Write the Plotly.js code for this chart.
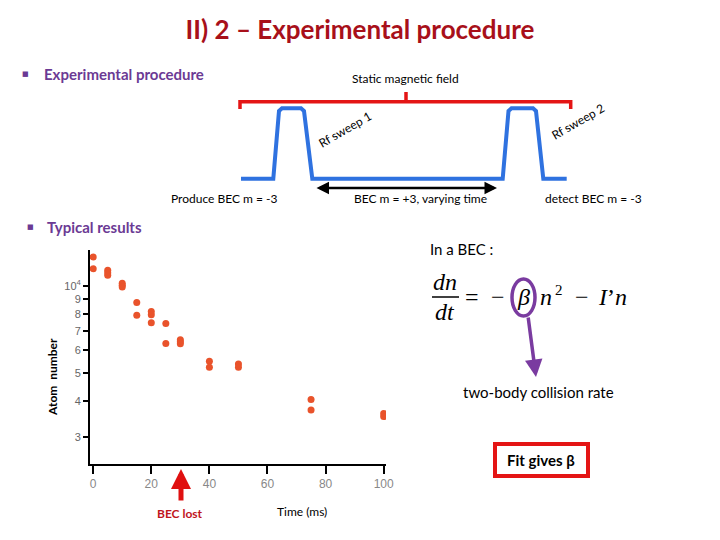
<!DOCTYPE html>
<html>
<head>
<meta charset="utf-8">
<script src="https://cdn.plot.ly/plotly-3.0.1.min.js"></script>
<style>html,body{margin:0;padding:0;background:#fff;}#chart{width:720px;height:540px;}</style>
</head>
<body>
<div id="chart"></div>
<script>
// Data (time in ms, atom number)
const timeMs = [0, 0, 5, 5, 5, 10, 10, 10, 15, 15, 20, 20, 20, 25, 25, 30, 30, 30, 40, 40, 50, 50, 75, 75, 100, 100];
const atomNumber = [12580, 11470, 11320, 11110, 10880, 10210, 10060, 9920, 8760, 7920, 8160, 7950, 7460, 7420, 6320, 6520, 6420, 6310, 5490, 5240, 5380, 5240, 4050, 3730, 3630, 3540];
const xTickVals = [0, 20, 40, 60, 80, 100];
const yTickVals = [3000, 4000, 5000, 6000, 7000, 8000, 9000, 10000];
const yTickText = ['3', '4', '5', '6', '7', '8', '9', '10<sup>4</sup>'];

const W = 720, H = 540;
const px = x => x / W;
const py = y => 1 - y / H;
const FONT = 'Lato, "Open Sans", sans-serif';
const PURPLE = '#6B3A94';
const DARKRED = '#A8101A';

function pathFrom(points) {
  return points.map((p, i) => (i ? 'L' : 'M') + px(p[0]).toFixed(5) + ',' + py(p[1]).toFixed(5)).join(' ');
}
function txt(x, y, text, opts) {
  return Object.assign({
    xref: 'paper', yref: 'paper', x: px(x), y: py(y), text: text, showarrow: false,
    xanchor: 'center', yanchor: 'middle',
    font: {family: FONT, size: 12, color: '#000'}
  }, opts || {});
}

const trace = {
  x: timeMs, y: atomNumber, type: 'scatter', mode: 'markers',
  marker: {color: '#E9532B', size: 7},
  hoverinfo: 'x+y', showlegend: false
};

const shapes = [
  // red bracket (static magnetic field)
  {type: 'path', xref: 'paper', yref: 'paper',
   path: pathFrom([[240, 109], [240, 101.7], [570.7, 101.7], [570.7, 109]]),
   line: {color: '#E41515', width: 3.5}},
  {type: 'path', xref: 'paper', yref: 'paper',
   path: pathFrom([[406, 101.7], [406, 92]]),
   line: {color: '#E41515', width: 3.5}},
  // blue rf sweep line
  {type: 'path', xref: 'paper', yref: 'paper',
   path: pathFrom([[241, 178.7], [273.3, 178.7], [279, 111], [282, 108.3], [301, 108.3], [304, 111], [312.3, 178.7],
                   [502.7, 178.7], [508.5, 111], [511.5, 108.3], [533, 108.3], [536, 111], [543.3, 178.7], [566.7, 178.7]]),
   line: {color: '#2F72E0', width: 4}},
  // fraction bar
  {type: 'line', xref: 'paper', yref: 'paper', x0: px(432), x1: px(459), y0: py(297), y1: py(297),
   line: {color: '#000', width: 1.5}},
  // purple ellipse around beta
  {type: 'circle', xref: 'paper', yref: 'paper', x0: px(512), x1: px(535), y0: py(279), y1: py(316),
   line: {color: '#7A3BA0', width: 3.5}},
  // red box
  {type: 'rect', xref: 'paper', yref: 'paper', x0: px(495), x1: px(588), y0: py(444), y1: py(476),
   line: {color: '#E41515', width: 4}}
];

const SERIF = '"Liberation Serif", "DejaVu Serif", serif';
const EQ = {family: SERIF, size: 24, color: '#000'};
const annotations = [
  txt(25, 74, '■', {font: {family: 'DejaVu Sans, sans-serif', size: 7, color: PURPLE}}),
  txt(42, 74, '<b>Experimental procedure</b>', {xanchor: 'left', font: {family: FONT, size: 15, color: PURPLE}}),
  txt(30, 227, '■', {font: {family: 'DejaVu Sans, sans-serif', size: 7, color: PURPLE}}),
  txt(45, 227, '<b>Typical results</b>', {xanchor: 'left', font: {family: FONT, size: 15, color: PURPLE}}),
  txt(405, 79, 'Static magnetic field', {font: {family: FONT, size: 12, color: '#000'}}),
  txt(345, 130, 'Rf sweep 1', {textangle: -30, font: {family: FONT, size: 12, color: '#000'}}),
  txt(578, 122, 'Rf sweep 2', {textangle: -30, font: {family: FONT, size: 12, color: '#000'}}),
  txt(224, 198, 'Produce BEC m = -3', {font: {family: FONT, size: 12, color: '#000'}}),
  txt(420, 198, 'BEC m = +3, varying time', {font: {family: FONT, size: 12, color: '#000'}}),
  txt(593, 198, 'detect BEC m = -3', {font: {family: FONT, size: 12, color: '#000'}}),
  // double arrow
  {xref: 'paper', yref: 'paper', x: px(497), y: py(188), ax: -182, ay: 0, text: '', showarrow: true,
   arrowhead: 2, startarrowhead: 2, arrowside: 'end+start', arrowsize: 1, arrowwidth: 2.5, arrowcolor: '#000'},
  txt(428, 249, 'In a BEC :', {xanchor: 'left', font: {family: FONT, size: 15, color: '#000'}}),
  txt(445, 282, '<i>dn</i>', {font: EQ}),
  txt(445, 312, '<i>dt</i>', {font: EQ}),
  txt(472, 297, '=', {font: EQ}),
  txt(498, 297, '−', {font: EQ}),
  txt(523, 297, '<i>β</i>', {font: EQ}),
  txt(546, 297, '<i>n</i>', {font: EQ}),
  txt(559, 290, '2', {font: {family: SERIF, size: 15, color: '#000'}}),
  txt(582, 297, '−', {font: EQ}),
  txt(606, 297, '<i>I</i>\u2019', {font: EQ}),
  txt(621, 297, '<i>n</i>', {font: EQ}),
  // purple arrow
  {xref: 'paper', yref: 'paper', x: px(536), y: py(377), ax: -8, ay: -61, text: '', showarrow: true,
   arrowhead: 2, arrowsize: 1, arrowwidth: 3.5, arrowcolor: '#7A3BA0'},
  txt(538, 392, 'two-body collision rate', {font: {family: FONT, size: 15, color: '#000'}}),
  txt(541, 460, '<b>Fit gives β</b>', {font: {family: FONT, size: 15, color: '#000'}}),
  // BEC lost arrow
  {xref: 'paper', yref: 'paper', x: px(181), y: py(469), ax: 0, ay: 33, text: '', showarrow: true,
   arrowhead: 2, arrowsize: 0.8, arrowwidth: 5, arrowcolor: '#E01010'},
  txt(180, 513, '<b>BEC lost</b>', {font: {family: FONT, size: 12, color: '#C0141C'}}),
  txt(302, 511, 'Time (ms)', {font: {family: FONT, size: 12, color: '#000'}}),
  txt(52, 377, '<b>Atom  number</b>', {textangle: -90, font: {family: FONT, size: 12, color: '#000'}})
];

const layout = {
  width: W, height: H,
  margin: {l: 0, r: 0, t: 0, b: 0},
  paper_bgcolor: '#fff', plot_bgcolor: '#fff',
  title: {text: '<b>II) 2 – Experimental procedure</b>', x: 0.5, xanchor: 'center', y: py(30), yanchor: 'middle',
          font: {family: FONT, size: 26, color: DARKRED}},
  xaxis: {
    domain: [px(90), px(386)], range: [-1.1, 100.8],
    tickvals: xTickVals, ticks: 'outside', ticklen: 8, tickwidth: 2, tickcolor: '#000',
    showline: true, linecolor: '#000', linewidth: 2, showgrid: false, zeroline: false,
    tickfont: {family: 'Arial, sans-serif', size: 12, color: '#888'}
  },
  yaxis: {
    type: 'log', domain: [py(464), py(250)], range: [Math.log10(2428), Math.log10(13300)],
    tickvals: yTickVals, ticktext: yTickText, ticks: 'outside', ticklen: 5, tickwidth: 2, tickcolor: '#000',
    showline: true, linecolor: '#000', linewidth: 2, showgrid: false, zeroline: false,
    tickfont: {family: 'Arial, sans-serif', size: 11, color: '#666'}
  },
  shapes: shapes,
  annotations: annotations
};

Plotly.newPlot('chart', [trace], layout, {displayModeBar: false, staticPlot: true});
</script>
</body>
</html>
